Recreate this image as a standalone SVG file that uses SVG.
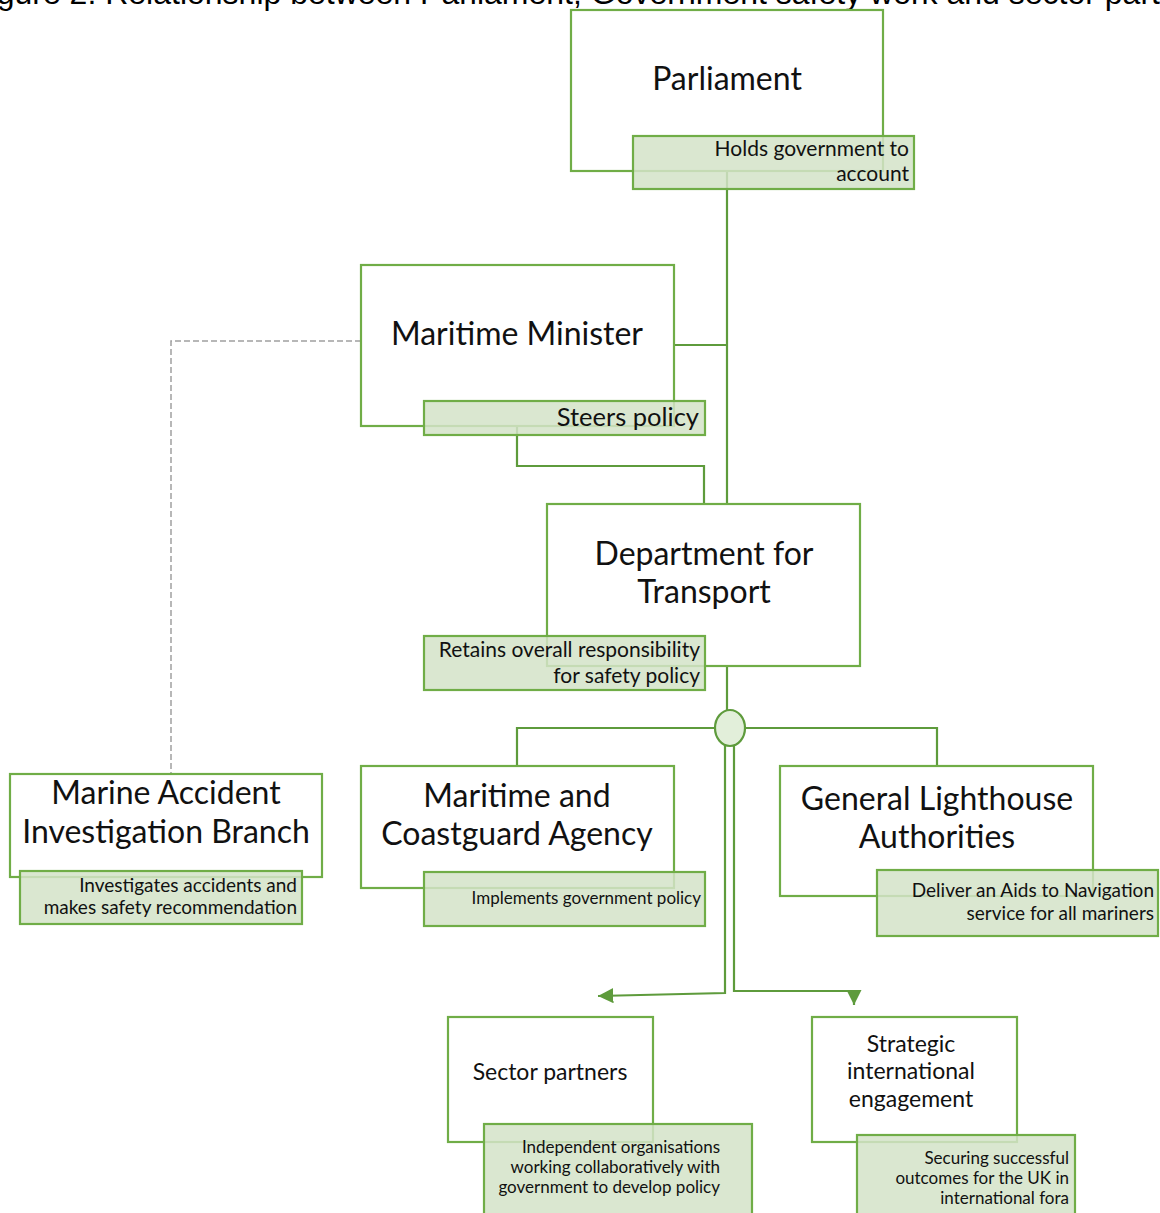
<svg xmlns="http://www.w3.org/2000/svg" width="1160" height="1213" viewBox="0 0 1160 1213">
<defs>
<style>
.box{fill:#ffffff;stroke:#70AD47;stroke-width:2.2}
.lab{fill:#d3e3c8;fill-opacity:0.85;stroke:#70AD47;stroke-width:2.2}
.con{fill:none;stroke:#5e9b3c;stroke-width:2.2}
.dash{fill:none;stroke:#a0a0a0;stroke-width:1.5;stroke-dasharray:6 3}
.t{font-family:Lato,"Liberation Sans",sans-serif;fill:#111;text-anchor:middle}
.big{font-size:32px}
.mid{font-size:23px}
.r{font-family:Lato,"Liberation Sans",sans-serif;fill:#111;text-anchor:end}
.title{font-family:"Liberation Sans",Arial,sans-serif;font-size:32px;fill:#000}
</style>
<marker id="arr" viewBox="0 0 10 10" refX="10" refY="5" markerWidth="7" markerHeight="7" orient="auto" markerUnits="strokeWidth">
<path d="M0,0 L10,5 L0,10 z" fill="#5e9b3c"/>
</marker>
</defs>
<text class="title" x="-30" y="4">Figure 2: Relationship between Parliament, Government safety work and sector partners</text>
<g id="connectors">
<path class="con" d="M727,171 V504"/>
<path class="con" d="M674,345 H727"/>
<path class="con" d="M517,427 V466 H704 V504"/>
<path class="dash" d="M361,341 H171 V774"/>
<path class="con" d="M727,666 V712"/>
<path class="con" d="M517,766 V728 H937 V766"/>
<path class="con" d="M725,744 V993 L598,996" marker-end="url(#arr)"/>
<path class="con" d="M734,744 V991 H854 V1005" marker-end="url(#arr)"/>
<ellipse cx="730" cy="728" rx="15" ry="18" fill="#e2efda" stroke="#5e9b3c" stroke-width="2.2"/>
</g>
<g id="parliament">
<rect class="box" x="571" y="10" width="312" height="161"/>
<text class="t big" x="727" y="90">Parliament</text>
<rect class="lab" x="633" y="136" width="281" height="53"/>
<text class="r" font-size="21" x="909" y="156">Holds government to</text>
<text class="r" font-size="21" x="909" y="181">account</text>
</g>
<g id="maritime-minister">
<rect class="box" x="361" y="265" width="313" height="161"/>
<text class="t big" x="517" y="345">Maritime Minister</text>
<rect class="lab" x="424" y="401" width="281" height="34"/>
<text class="r" font-size="25.5" x="699" y="426">Steers policy</text>
</g>
<g id="dft">
<rect class="box" x="547" y="504" width="313" height="162"/>
<text class="t big" x="704" y="565">Department for</text>
<text class="t big" x="704" y="603">Transport</text>
<rect class="lab" x="424" y="636" width="281" height="54"/>
<text class="r" font-size="21" x="700" y="657">Retains overall responsibility</text>
<text class="r" font-size="21" x="700" y="683">for safety policy</text>
</g>
<g id="maib">
<rect class="box" x="10" y="774" width="312" height="103"/>
<text class="t big" x="166" y="804">Marine Accident</text>
<text class="t big" x="166" y="843">Investigation Branch</text>
<rect class="lab" x="20" y="871" width="282" height="53"/>
<text class="r" font-size="19" x="297" y="892">Investigates accidents and</text>
<text class="r" font-size="19" x="297" y="914">makes safety recommendation</text>
</g>
<g id="mca">
<rect class="box" x="361" y="766" width="313" height="122"/>
<text class="t big" x="517" y="807">Maritime and</text>
<text class="t big" x="517" y="845">Coastguard Agency</text>
<rect class="lab" x="424" y="872" width="281" height="54"/>
<text class="r" font-size="17" x="701" y="904">Implements government policy</text>
</g>
<g id="gla">
<rect class="box" x="780" y="766" width="313" height="130"/>
<text class="t big" x="937" y="810">General Lighthouse</text>
<text class="t big" x="937" y="848">Authorities</text>
<rect class="lab" x="877" y="870" width="281" height="66"/>
<text class="r" font-size="19" x="1154" y="897">Deliver an Aids to Navigation</text>
<text class="r" font-size="19" x="1154" y="920">service for all mariners</text>
</g>
<g id="sector-partners">
<rect class="box" x="448" y="1017" width="205" height="125"/>
<text class="t mid" x="550" y="1080">Sector partners</text>
<rect class="lab" x="484" y="1124" width="268" height="100"/>
<text class="r" font-size="17" x="720" y="1153">Independent organisations</text>
<text class="r" font-size="17" x="720" y="1173">working collaboratively with</text>
<text class="r" font-size="17" x="720" y="1193">government to develop policy</text>
</g>
<g id="strategic">
<rect class="box" x="812" y="1017" width="205" height="125"/>
<text class="t mid" x="911" y="1052">Strategic</text>
<text class="t mid" x="911" y="1079">international</text>
<text class="t mid" x="911" y="1107">engagement</text>
<rect class="lab" x="857" y="1135" width="218" height="90"/>
<text class="r" font-size="17" x="1069" y="1164">Securing successful</text>
<text class="r" font-size="17" x="1069" y="1184">outcomes for the UK in</text>
<text class="r" font-size="17" x="1069" y="1204">international fora</text>
</g>
</svg>
